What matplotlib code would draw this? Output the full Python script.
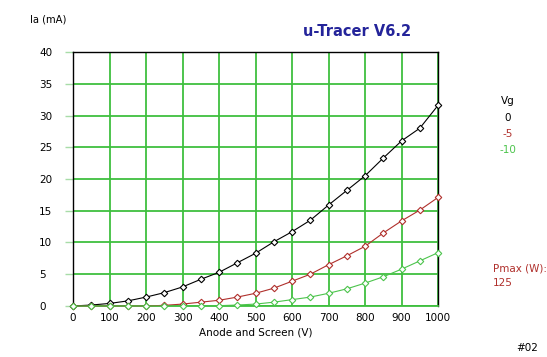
import matplotlib
matplotlib.use("Agg")
import matplotlib.pyplot as plt
import numpy as np

# anode/screen voltage steps (V)
va = [0, 50, 100, 150, 200, 250, 300, 350, 400, 450, 500,
      550, 600, 650, 700, 750, 800, 850, 900, 950, 1000]

# anode current (mA) for each grid voltage
ia_0 = [0, 0.15, 0.4, 0.8, 1.4, 2.1, 3.0, 4.2, 5.3, 6.8, 8.3,
        10.1, 11.7, 13.5, 15.9, 18.2, 20.5, 23.3, 26.0, 28.0, 31.6]
ia_m5 = [0, 0, 0, 0, 0, 0.1, 0.3, 0.6, 0.9, 1.4, 2.0,
         2.8, 3.9, 5.0, 6.5, 7.9, 9.4, 11.5, 13.4, 15.1, 17.1]
ia_m10 = [0, 0, 0, 0, 0, 0, 0, 0, 0.05, 0.15, 0.3,
          0.6, 1.0, 1.4, 2.0, 2.7, 3.6, 4.6, 5.8, 7.1, 8.4]

vg_labels = ["0", "-5", "-10"]
colors = ["black", "#b0302c", "#4cc44c"]
grid_col = "#3fbf3f"

fig = plt.figure(figsize=(5.47, 3.57), dpi=100)
ax = fig.add_axes([0.1335, 0.1429, 0.6673, 0.7114])

for yy, c in zip([ia_0, ia_m5, ia_m10], colors):
    ax.plot(va, yy, '-', color=c, lw=0.8, marker='D', ms=3.3,
            mfc='white', mec=c, mew=0.8, zorder=3, clip_on=False)

ax.set_xlim(0, 1000)
ax.set_ylim(0, 40)
ax.set_xticks(np.arange(0, 1001, 100))
ax.set_yticks(np.arange(0, 41, 5))
ax.grid(True, color=grid_col, lw=1.3)
ax.set_axisbelow(True)
for s in ax.spines.values():
    s.set_color('black')
    s.set_linewidth(1.0)
ax.spines['bottom'].set_color(grid_col)
ax.spines['bottom'].set_linewidth(1.3)
ax.tick_params(axis='y', labelsize=7.5, length=5.8, width=1.0,
               color='#a8dca8', pad=18.7)
for lab in ax.get_yticklabels():
    lab.set_horizontalalignment('left')
ax.tick_params(axis='x', labelsize=7.5, length=0, pad=5)

ax.set_xlabel("Anode and Screen (V)", fontsize=7.5, labelpad=3)
fig.text(0.055, 0.945, "Ia (mA)", fontsize=7.2, va='center', ha='left')
fig.text(0.653, 0.912, "u-Tracer V6.2", fontsize=10.5, color='#24249a',
         fontweight='semibold', ha='center', va='center')

# grid voltage legend
fig.text(0.928, 0.717, "Vg", fontsize=7.5, ha='center', va='center')
for i, (lab, c) in enumerate(zip(vg_labels, colors)):
    fig.text(0.928, 0.670 - i * 0.045, lab, fontsize=7.5, color=c,
             ha='center', va='center')

fig.text(0.901, 0.249, "Pmax (W):", fontsize=7.5, color='#b0302c', va='center')
fig.text(0.901, 0.207, "125", fontsize=7.5, color='#b0302c', va='center')
fig.text(0.963, 0.025, "#02", fontsize=7.5, ha='center', va='center')

fig.savefig("out.png", dpi=100)
